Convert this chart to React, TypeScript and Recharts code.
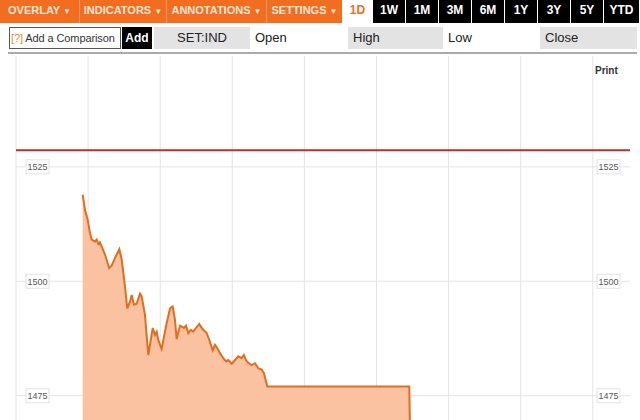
import { AreaChart, Area, XAxis, YAxis, CartesianGrid, ReferenceLine } from "recharts";

// minutes since the left edge of the 1D window
const times = [
	55.5, 57.4, 59.7, 61.6, 63, 65.7, 67.2, 68.5, 69.9, 71.3, 74.1, 77.6, 79.6, 82.4, 86, 88,
	90.7, 92.6, 94.9, 96.3, 98.2, 100.4, 103.2, 104.6, 107.3, 110.1, 113.8, 115.7, 117.1, 118.4,
	121.2, 125.4, 128.2, 130.4, 132.3, 133.7, 136.5, 139.8, 141.5, 143.4, 145.4, 147.5, 149.8,
	152.5, 155.4, 158.7, 161.4, 163.7, 165.6, 167.5, 169.8, 172.5, 174.8, 176.7, 179.5, 182.3,
	185, 187.8, 189.7, 191.4, 193.3, 196.1, 198.9, 201.6, 204.5, 206.4, 209.1, 327.3, 328.7,
];

const prices = [
	1518.9, 1515.6, 1513.4, 1510.5, 1509.1, 1508.7, 1509.1, 1508.2, 1508.5, 1507.6, 1505.8,
	1502.9, 1503.4, 1505.1, 1507.0, 1504.7, 1498.9, 1494.1, 1495.6, 1497.0, 1494.9, 1495.1,
	1497.3, 1496.7, 1492.7, 1483.9, 1489.8, 1488.3, 1489.0, 1487.2, 1485.2, 1490.9, 1494.1,
	1494.5, 1491.6, 1487.4, 1490.3, 1489.8, 1490.3, 1488.7, 1489.4, 1489.0, 1489.8, 1490.7,
	1489.5, 1488.7, 1486.8, 1484.9, 1486.1, 1485.4, 1484.3, 1483.2, 1482.5, 1482.8, 1482.0,
	1482.8, 1483.6, 1483.2, 1483.9, 1482.8, 1482.2, 1481.7, 1482.1, 1481.0, 1480.7, 1479.9,
	1477.0, 1477.0, 1455.0,
];

const prevClose = 1528.6;
const priceTicks = [1475, 1500, 1525];
const hourTicks = [0, 60, 120, 180, 240, 300, 360, 420, 480];

const menus = ["OVERLAY", "INDICATORS", "ANNOTATIONS", "SETTINGS"];
const ranges = ["1W", "1M", "3M", "6M", "1Y", "3Y", "5Y", "YTD"];

const data = times.map((t, i) => ({ t, v: prices[i] }));

const font = '"Liberation Sans", Arial, sans-serif';
const orange = "#f26d1f";

const TickBoxes = (props: any) => {
	const { viewBox, text } = props;
	if (!viewBox) return null;
	const y = viewBox.y;
	const boxes = [viewBox.x + 10, viewBox.x + viewBox.width - 33];
	return (
		<g>
			{boxes.map((bx, i) => (
				<g key={i}>
					<rect x={bx} y={y - 7} width={23} height={14} fill="#fff" stroke="#e2e2e2" />
					<text
						x={bx + 11.5}
						y={y + 3.5}
						textAnchor="middle"
						fontSize={9}
						fontFamily={font}
						fill="#555"
					>
						{text}
					</text>
				</g>
			))}
		</g>
	);
};

const menuEdges = [0, 80, 167, 267, 342];
const rangeEdges = [373, 406, 439, 472, 505, 538, 571, 604, 640];

const App = () => {
	return (
		<div
			style={{
				position: "absolute",
				left: 0,
				top: 0,
				width: 640,
				height: 420,
				overflow: "hidden",
				background: "#fff",
				fontFamily: font,
			}}
		>
			{/* toolbar row 1 */}
			{menus.map((m, i) => (
				<div
					key={m}
					style={{
						position: "absolute",
						left: menuEdges[i],
						top: 0,
						width: menuEdges[i + 1] - menuEdges[i] - (i < 3 ? 1 : 0),
						height: 23,
						background: orange,
						borderRight: i < 3 ? "1px solid #f79b60" : "none",
						color: "#fde6d4",
						fontSize: 11,
						fontWeight: "bold",
						lineHeight: "21px",
						textAlign: "center",
					}}
				>
					{m} <span style={{ fontSize: 8 }}>▼</span>
				</div>
			))}
			<div
				style={{
					position: "absolute",
					left: 342,
					top: 0,
					width: 31,
					height: 23,
					color: orange,
					fontSize: 12,
					fontWeight: "bold",
					lineHeight: "21px",
					textAlign: "center",
				}}
			>
				1D
			</div>
			{ranges.map((r, i) => (
				<div
					key={r}
					style={{
						position: "absolute",
						left: rangeEdges[i],
						top: 0,
						width: rangeEdges[i + 1] - rangeEdges[i] - 1,
						height: 23,
						background: "#000",
						color: "#fff",
						fontSize: 12,
						fontWeight: "bold",
						lineHeight: "21px",
						textAlign: "center",
					}}
				>
					{r}
				</div>
			))}

			{/* toolbar row 2 */}
			<div
				style={{
					position: "absolute",
					left: 9,
					top: 27,
					width: 110,
					height: 20,
					border: "1px solid #555",
					fontSize: 11,
					lineHeight: "20px",
					color: "#333",
					whiteSpace: "nowrap",
					letterSpacing: -0.1,
				}}
			>
				<span style={{ color: "#d9932a", marginLeft: 1 }}>[?]</span> Add a Comparison
			</div>
			<div
				style={{
					position: "absolute",
					left: 122,
					top: 27,
					width: 30,
					height: 22,
					background: "#000",
					color: "#fff",
					fontSize: 12,
					fontWeight: "bold",
					lineHeight: "22px",
					textAlign: "center",
				}}
			>
				Add
			</div>
			<div
				style={{
					position: "absolute",
					left: 154,
					top: 27,
					width: 96,
					height: 22,
					background: "#e3e3e3",
					color: "#222",
					fontSize: 13,
					lineHeight: "22px",
					textAlign: "center",
				}}
			>
				SET:IND
			</div>
			{[
				{ label: "Open", x: 255, w: 88, bg: "transparent" },
				{ label: "High", x: 348, w: 95, bg: "#e3e3e3" },
				{ label: "Low", x: 443, w: 97, bg: "transparent" },
				{ label: "Close", x: 540, w: 97, bg: "#e3e3e3" },
			].map((c) => (
				<div
					key={c.label}
					style={{
						position: "absolute",
						left: c.x,
						top: 27,
						width: c.w,
						height: 22,
						background: c.bg,
						color: "#222",
						fontSize: 13,
						lineHeight: "22px",
						paddingLeft: c.label === "Open" ? 0 : 5,
						boxSizing: "border-box",
					}}
				>
					{c.label}
				</div>
			))}
			<div
				style={{
					position: "absolute",
					left: 8,
					top: 52,
					width: 629,
					height: 2,
					background: "#aaa",
				}}
			/>

			<div
				style={{
					position: "absolute",
					left: 595,
					top: 65,
					fontSize: 10,
					fontWeight: "bold",
					color: "#333",
				}}
			>
				Print
			</div>

			<div style={{ position: "absolute", left: 0, top: 0 }}>
				<AreaChart
					width={640}
					height={580}
					data={data}
					margin={{ top: 56, right: 10, left: 16, bottom: 24 }}
				>
					<CartesianGrid
						stroke="#e4e4e4"
						horizontalValues={priceTicks}
						verticalValues={hourTicks}
					/>
					<XAxis
						dataKey="t"
						type="number"
						domain={[0, 511]}
						ticks={hourTicks}
						hide
						allowDataOverflow
					/>
					<YAxis
						type="number"
						domain={[1440, 1549.2]}
						ticks={priceTicks}
						hide
						allowDataOverflow
					/>
					<Area
						type="linear"
						dataKey="v"
						stroke="#e36d1c"
						strokeWidth={2}
						fill="#fac2a0"
						fillOpacity={1}
						isAnimationActive={false}
						dot={false}
						activeDot={false}
					/>
					{priceTicks.map((p) => (
						<ReferenceLine
							key={p}
							y={p}
							stroke="none"
							label={<TickBoxes text={String(p)} />}
						/>
					))}
					<ReferenceLine y={prevClose} stroke="#c62a2f" strokeWidth={2} />
				</AreaChart>
			</div>
		</div>
	);
};

export default App;
